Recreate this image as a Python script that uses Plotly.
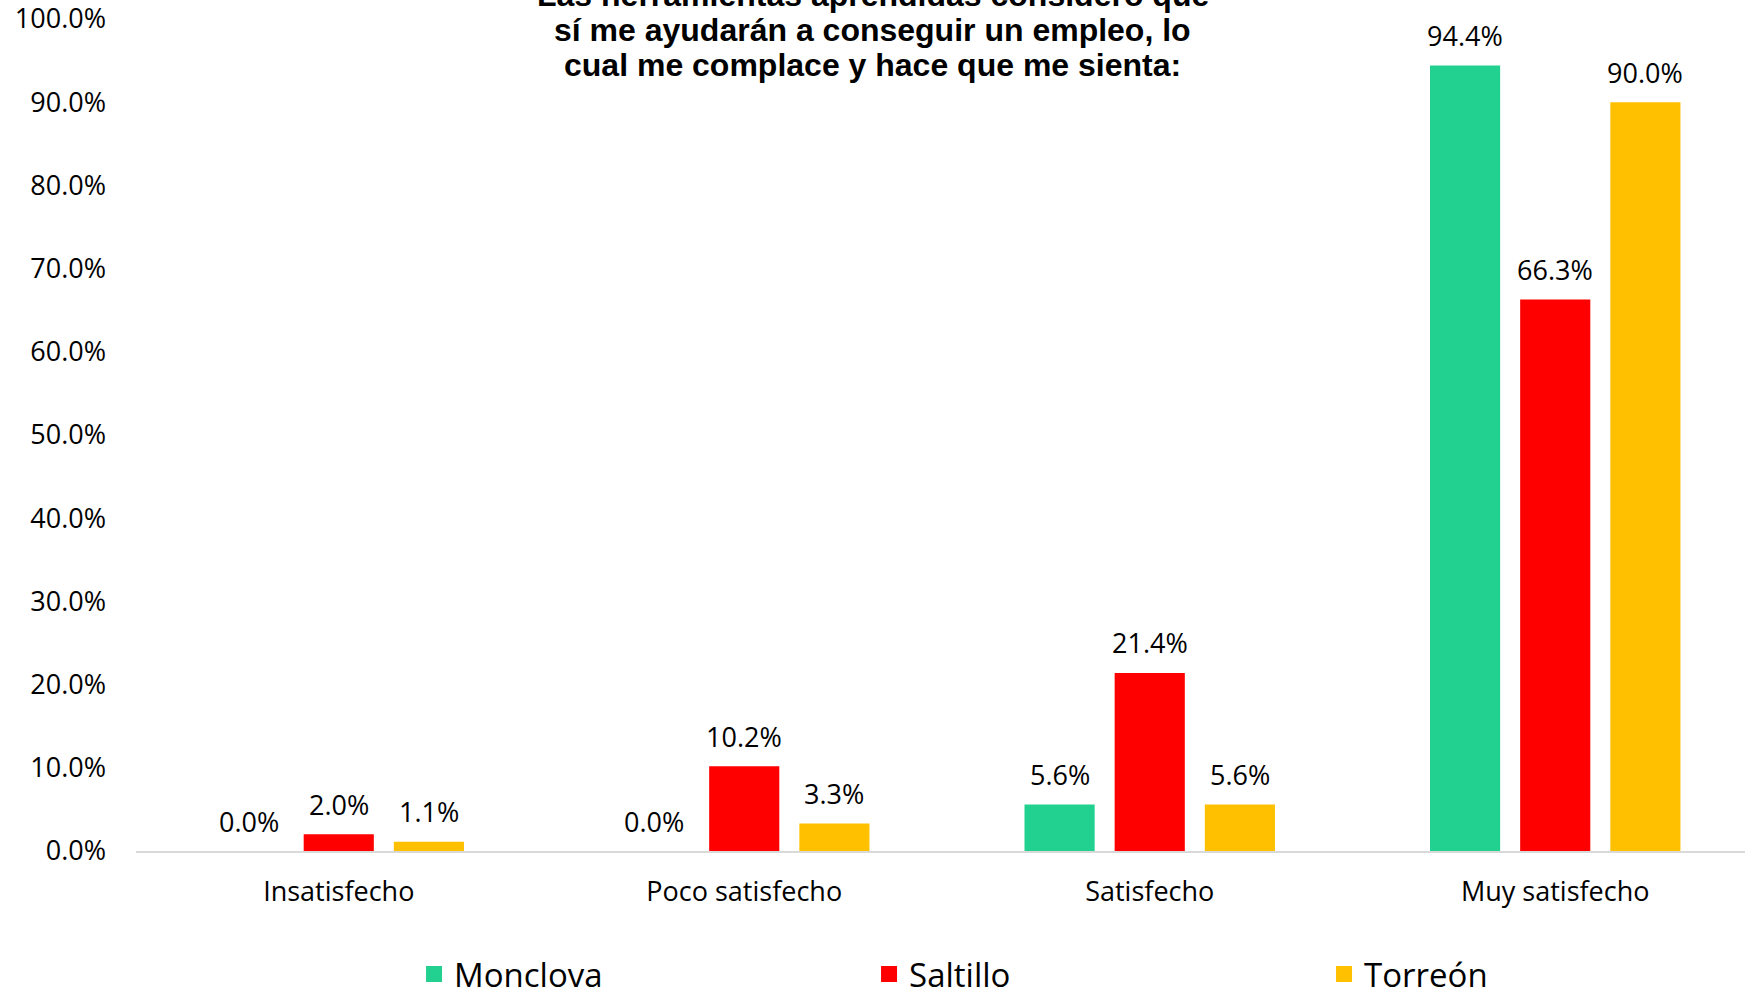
import plotly.graph_objects as go

categories = ["Insatisfecho", "Poco satisfecho", "Satisfecho", "Muy satisfecho"]
series_names = ["Monclova", "Saltillo", "Torreón"]
monclova = [0.0, 0.0, 5.6, 94.4]
saltillo = [2.0, 10.2, 21.4, 66.3]
torreon = [1.1, 3.3, 5.6, 90.0]
series_values = [monclova, saltillo, torreon]
colors = ["#22D18F", "#FF0000", "#FFC000"]
y_ticks = [0, 10, 20, 30, 40, 50, 60, 70, 80, 90, 100]
y_tick_labels = [f"{v:.1f}%" for v in y_ticks]
title_lines = ["Las herramientas aprendidas considero que",
               "sí me ayudarán a conseguir un empleo, lo",
               "cual me complace y hace que me sienta:"]

FONT = "Open Sans"
fig = go.Figure()

for name, vals, col in zip(series_names, series_values, colors):
    fig.add_trace(go.Bar(x=categories, y=vals, name=name, marker_color=col,
                         marker_line_width=0, showlegend=False))
    fig.add_trace(go.Scatter(x=[None], y=[None], mode="markers", name=name,
                             marker=dict(symbol="square", size=16, color=col)))

# data labels
offsets = [-90, 0, 90]
for vals, dx in zip(series_values, offsets):
    for c, v in zip(categories, vals):
        fig.add_annotation(x=c, y=v, xref="x", yref="y", text=f"{v:.1f}%",
                           showarrow=False, xshift=dx, yshift=30,
                           font=dict(family=FONT, size=27, color="#000000"))

# title (three lines, tight line spacing)
for i, line in enumerate(title_lines):
    fig.add_annotation(text=line, xref="paper", yref="paper", x=0.458, y=0.987,
                       xanchor="center", yanchor="middle", showarrow=False,
                       yshift=(1 - i) * 35,
                       font=dict(family="Liberation Sans", size=32, color="#000000",
                                 weight="bold"))

fig.update_layout(
    width=1745, height=990,
    margin=dict(l=136, r=0, t=19, b=139, autoexpand=False),
    paper_bgcolor="white", plot_bgcolor="white",
    barmode="group", bargap=0.333, bargroupgap=0.222,
    font=dict(family=FONT, size=27, color="#000000"),
    legend=dict(orientation="h", x=0.1728, xanchor="left", y=-0.148, yanchor="middle",
                font=dict(family=FONT, size=33, color="#000000"),
                entrywidthmode="pixels", entrywidth=410, itemwidth=30,
                bgcolor="rgba(0,0,0,0)"),
)
fig.update_xaxes(type="category", range=[-0.5, 3.468], showgrid=False, automargin=False,
                 showline=True, linecolor="#D9D9D9", linewidth=2, ticks="",
                 ticklabelstandoff=16, tickfont=dict(family=FONT, size=27))
fig.update_yaxes(range=[0, 100], tickmode="array", tickvals=y_ticks, ticktext=y_tick_labels,
                 showgrid=False, zeroline=False, showline=False, ticks="", automargin=False,
                 ticklabeloverflow="allow",
                 ticklabelstandoff=29, tickfont=dict(family=FONT, size=27))

fig.write_html("out.html", config={"displayModeBar": False},
               post_script="document.body.style.margin='0';document.body.style.overflow='hidden';")
